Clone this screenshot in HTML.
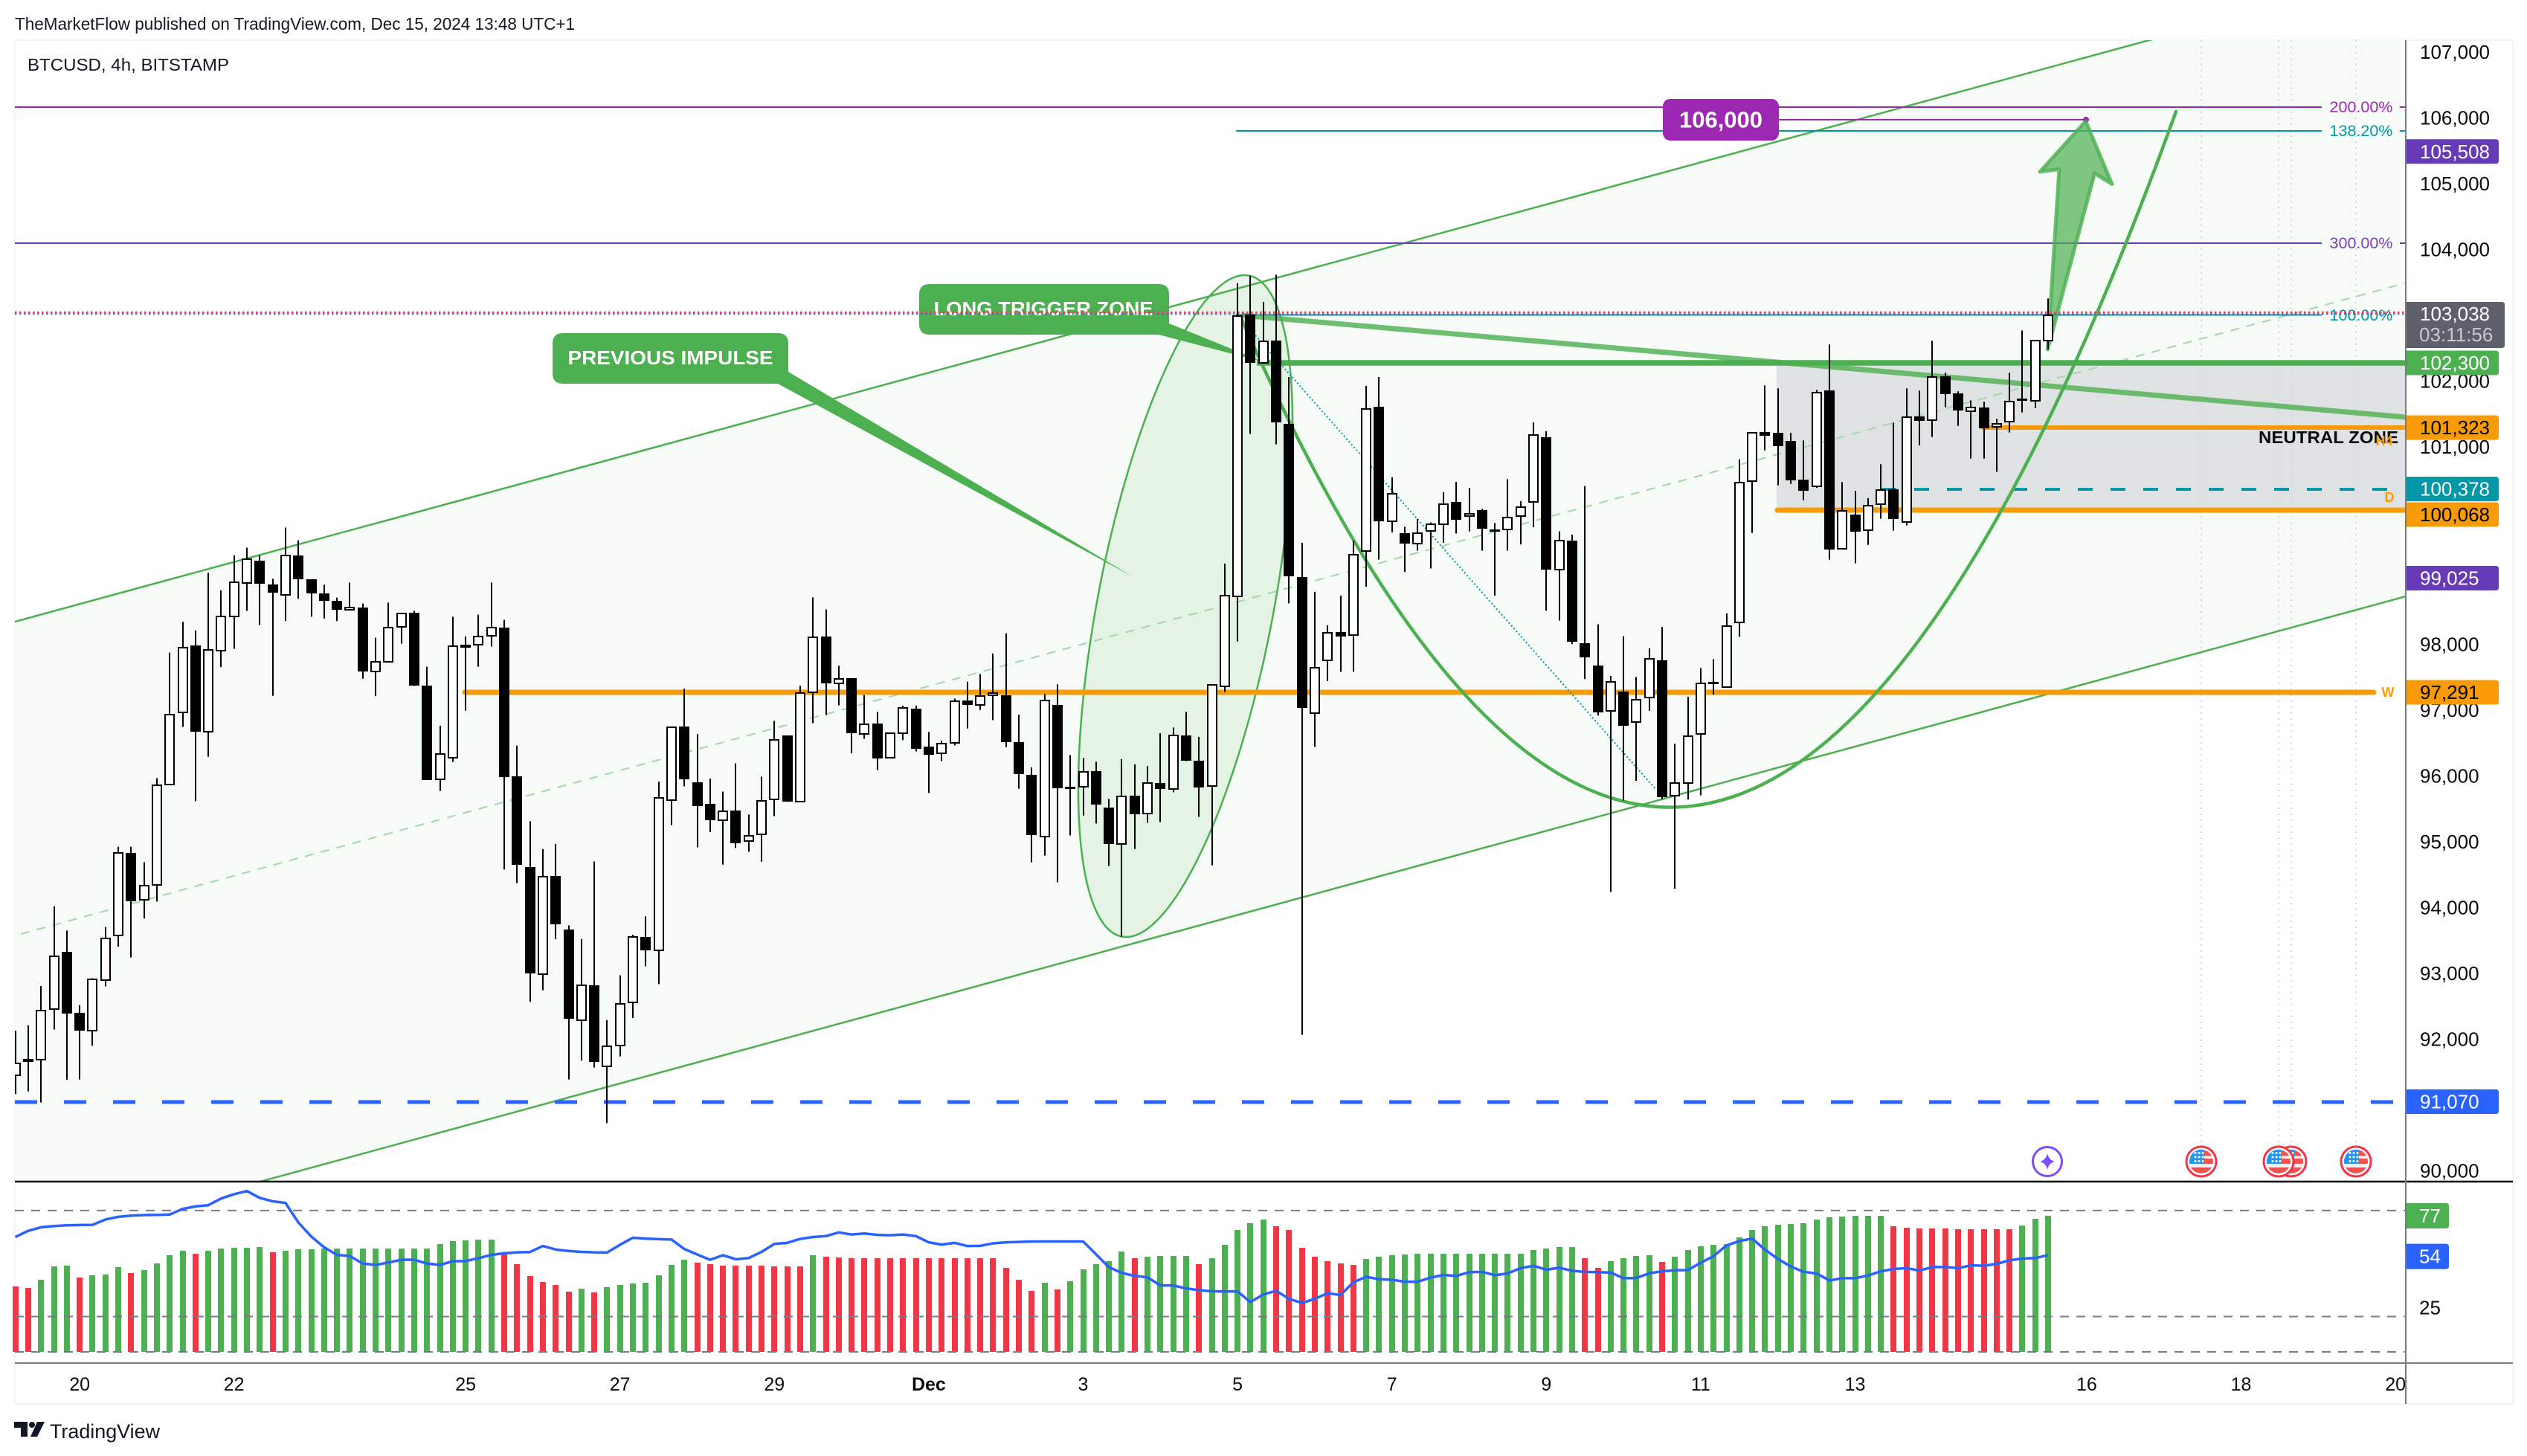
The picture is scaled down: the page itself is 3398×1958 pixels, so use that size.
<!DOCTYPE html>
<html lang="en">
<head>
<meta charset="utf-8">
<title>BTCUSD 4h chart</title>
<style>
html,body{margin:0;padding:0;background:#fff;width:3398px;height:1958px;overflow:hidden}
svg{display:block;font-family:"Liberation Sans",sans-serif}
</style>
</head>
<body>
<svg id="chart" xmlns="http://www.w3.org/2000/svg" width="3398" height="1958" viewBox="0 0 3398 1958">
<defs>
<clipPath id="pane-clip"><rect x="20" y="54" width="3215" height="1535"/></clipPath>
</defs>
<rect x="0" y="0" width="3398" height="1958" fill="#ffffff"/>
<text x="20" y="32" dominant-baseline="central" font-size="23" fill="#131722" textLength="753" lengthAdjust="spacingAndGlyphs">TheMarketFlow published on TradingView.com, Dec 15, 2024 13:48 UTC+1</text>
<rect x="20" y="54" width="3359" height="1834" fill="#ffffff" stroke="#f0f3fa" stroke-width="2"/>

<g clip-path="url(#pane-clip)">
  <polygon points="20,836 3235,-40 3235,802 20,1679" fill="#f6fbf7"/>
  <ellipse cx="1594" cy="815" rx="118" ry="452.6" transform="rotate(10.9 1594 815)" fill="rgba(76,175,80,0.1)" stroke="#4caf50" stroke-width="2.5"/>
  <rect x="2389" y="488" width="846" height="198" fill="#dfe2e2"/>
  <line x1="2960" y1="54" x2="2960" y2="1540" stroke="#d6d8de" stroke-width="2" stroke-dasharray="2 6"/>
  <line x1="3064" y1="54" x2="3064" y2="1540" stroke="#d6d8de" stroke-width="2" stroke-dasharray="2 6"/>
  <line x1="3081" y1="54" x2="3081" y2="1540" stroke="#d6d8de" stroke-width="2" stroke-dasharray="2 6"/>
  <line x1="3168" y1="54" x2="3168" y2="1540" stroke="#d6d8de" stroke-width="2" stroke-dasharray="2 6"/>
  <line x1="20" y1="836" x2="3235" y2="-40" stroke="#4caf50" stroke-width="2.5"/>
  <line x1="20" y1="1679" x2="3235" y2="802" stroke="#4caf50" stroke-width="2.5"/>
  <line x1="28" y1="1256" x2="3235" y2="380.5" stroke="#a5d6a7" stroke-width="2" stroke-dasharray="12 10"/>
  <line x1="20" y1="144" x2="3122" y2="144" stroke="#9c27b0" stroke-width="2"/>
  <line x1="3227" y1="144" x2="3235" y2="144" stroke="#9c27b0" stroke-width="2"/>
  <line x1="1662" y1="176" x2="3122" y2="176" stroke="#0097a7" stroke-width="2"/>
  <line x1="3227" y1="176" x2="3235" y2="176" stroke="#0097a7" stroke-width="2"/>
  <line x1="20" y1="327" x2="3122" y2="327" stroke="#673ab7" stroke-width="2"/>
  <line x1="3227" y1="327" x2="3235" y2="327" stroke="#673ab7" stroke-width="2"/>
  <line x1="1662" y1="423.5" x2="3122" y2="423.5" stroke="#0097a7" stroke-width="2"/>
  <line x1="2392" y1="161" x2="2805" y2="161" stroke="#9c27b0" stroke-width="2"/>
  <circle cx="2805" cy="161" r="4" fill="#9c27b0"/>
  <line x1="20" y1="1482" x2="3235" y2="1482" stroke="#2962ff" stroke-width="5" stroke-dasharray="30 36"/>
  <line x1="625" y1="931" x2="3192" y2="931" stroke="#f99b07" stroke-width="7" stroke-linecap="round"/>
  <line x1="2667" y1="575" x2="3235" y2="575" stroke="#f99b07" stroke-width="6" stroke-linecap="round"/>
  <line x1="2390" y1="686" x2="3235" y2="686" stroke="#f99b07" stroke-width="7" stroke-linecap="round"/>
  <line x1="2530" y1="658" x2="3235" y2="658" stroke="#0097a7" stroke-width="4" stroke-dasharray="20 24"/>
  <line x1="1690" y1="488" x2="3235" y2="488" stroke="#4caf50" stroke-width="7.5"/>
  <line x1="1669" y1="424" x2="3235" y2="561" stroke="rgba(76,175,80,0.8)" stroke-width="7"/>
  <line x1="1688" y1="451" x2="2227" y2="1062" stroke="#0097a7" stroke-width="2" stroke-dasharray="2 3"/>
  <path d="M1669,428 Q2305,1870 2926,150" fill="none" stroke="#4caf50" stroke-width="4.5" stroke-linecap="round"/>
  <polygon points="2804.6,163 2840,247.6 2816.6,233 2753.4,470 2769,227.5 2743,231" fill="rgba(76,175,80,0.7)" stroke="rgba(76,175,80,0.8)" stroke-width="5" stroke-linejoin="round"/>
  <path d="M757,448 H1046 Q1060,448 1060,462 V500 L1524,776 L1046,516 H757 Q743,516 743,502 V462 Q743,448 757,448 Z" fill="#4caf50"/>
  <path d="M1250,382 H1558 Q1572,382 1572,396 V435 L1700,487 L1558,450 H1250 Q1236,450 1236,436 V396 Q1236,382 1250,382 Z" fill="#4caf50"/>
  <text x="901.5" y="481" dominant-baseline="central" text-anchor="middle" font-size="26" font-weight="bold" fill="#ffffff" textLength="276" lengthAdjust="spacingAndGlyphs">PREVIOUS IMPULSE</text>
  <text x="1403" y="415" dominant-baseline="central" text-anchor="middle" font-size="26" font-weight="bold" fill="#ffffff" textLength="295" lengthAdjust="spacingAndGlyphs">LONG TRIGGER ZONE</text>
  <rect x="2236" y="133" width="156" height="56" rx="10" fill="#9c27b0"/>
  <text x="2314" y="161" dominant-baseline="central" text-anchor="middle" font-size="31" font-weight="bold" fill="#ffffff">106,000</text>
  <text x="3175" y="144" dominant-baseline="central" text-anchor="middle" font-size="21.5" fill="#9c27b0">200.00%</text>
  <text x="3175" y="176" dominant-baseline="central" text-anchor="middle" font-size="21.5" fill="#0097a7">138.20%</text>
  <text x="3175" y="327" dominant-baseline="central" text-anchor="middle" font-size="21.5" fill="#7b3fb8">300.00%</text>
  <text x="3175" y="424" dominant-baseline="central" text-anchor="middle" font-size="21.5" fill="#0097a7">100.00%</text>
  <text x="3131" y="588" dominant-baseline="central" text-anchor="middle" font-size="23" font-weight="bold" fill="#0a0a0a" textLength="188" lengthAdjust="spacingAndGlyphs">NEUTRAL ZONE</text>
  <text x="3206" y="593" dominant-baseline="central" text-anchor="middle" font-size="18" font-weight="bold" fill="#f99b07">H4</text>
  <text x="3213" y="669" dominant-baseline="central" text-anchor="middle" font-size="18" font-weight="bold" fill="#f99b07">D</text>
  <text x="3211" y="931" dominant-baseline="central" text-anchor="middle" font-size="18" font-weight="bold" fill="#f99b07">W</text>
  <line x1="20" y1="420" x2="3235" y2="420" stroke="#f0415c" stroke-width="2.5" stroke-dasharray="2.5 3.5"/>
  <line x1="20" y1="422.25" x2="3235" y2="422.25" stroke="#5560a8" stroke-width="2" stroke-dasharray="2.5 3.5"/>
  <g id="candles"></g>
</g>

<text x="37" y="87" dominant-baseline="central" font-size="23" fill="#131722" textLength="271" lengthAdjust="spacingAndGlyphs">BTCUSD, 4h, BITSTAMP</text>
<g id="event-icons"></g>

<g id="rsi-pane"></g>

<line x1="20" y1="1589" x2="3379" y2="1589" stroke="#000000" stroke-width="2.5"/>
<line x1="20" y1="1833" x2="3379" y2="1833" stroke="#787b86" stroke-width="2"/>
<line x1="3235" y1="54" x2="3235" y2="1888" stroke="#787b86" stroke-width="2"/>

<g id="price-axis"></g>
<g id="time-axis"></g>

<g>
  <path d="M19,1912 H37 V1932 H28 V1920 H19 Z M50,1912 H60 L50,1932 H41 Z" fill="#131722"/>
  <circle cx="43" cy="1916" r="4" fill="#131722"/>
  <text x="67" y="1925" dominant-baseline="central" font-size="27" fill="#131722" textLength="148" lengthAdjust="spacingAndGlyphs">TradingView</text>
</g>
</svg>

<script>
const opens = [
91473,91719,91713,92478,93347,92426,92154,92919,93600,94845,
94138,94365,95890,96986,97998,96694,97926,98445,98951,99288,
98932,98776,99373,99003,98789,98685,98549,98581,97608,97758,
98289,98504,97388,95967,96292,98011,98017,98153,98277,96019,
94638,93003,94495,93691,92309,92835,91609,91927,92582,93578,
93371,95656,96766,95928,95601,95348,95490,95026,95132,95666,
96630,95631,97290,98143,97427,97502,96660,96811,96297,96670,
97048,96463,96367,96524,97164,97099,97245,97250,96529,96034,
95101,97104,95853,95853,96090,95545,94985,95717,95449,95918,
95822,96640,96246,95868,97386,98753,103034,102296,102637,101369,
99038,96969,97778,98206,98166,99435,101631,99895,99712,99546,
99744,99847,100188,99974,100061,99768,99760,99974,100180,101171,
99157,99601,98032,97699,97009,97302,96843,97215,97778,95725,
95907,96660,97445,97374,98349,100497,101242,101231,101107,100519,
100418,101879,99469,99988,99755,100146,100372,99875,101480,101423,
102090,101830,101559,101615,101321,101400,101751,101717,102632];
const highs = [
92147,92232,92828,94041,93671,92536,92945,93723,94943,94943,
94709,95987,97894,98361,98231,99107,98841,99373,99489,99373,
99016,99794,99600,99003,98925,98730,98958,98640,98121,98653,
98484,98529,97680,96785,98439,98140,98471,98958,98393,96480,
95332,94910,94988,93749,93542,94722,92309,92991,93607,93886,
95933,96761,97346,96655,95979,95782,96211,95434,96009,96857,
96630,97391,98733,98551,97694,97502,97250,96993,96670,97089,
97089,96690,96554,97195,97452,97568,97880,98188,96952,96150,
97265,97411,96337,96292,96236,95671,96276,96196,96171,96670,
96756,96993,96614,97401,99247,103509,103620,103224,103636,102082,
99562,98816,98309,98761,99593,101948,102082,100560,99807,99926,
99871,100330,100489,100394,100077,99863,100529,100196,101393,101258,
99736,99688,100426,98325,97540,98143,97524,97960,98285,96510,
97223,97659,97794,98491,100830,101234,101954,101909,101231,101118,
101886,102576,100485,100350,100241,100757,101389,101909,101875,102632,
102146,101864,101728,101706,101446,102146,102790,102640,103276];
const lows = [
91187,91226,91058,92167,91401,91408,91920,92822,93425,93263,
93853,94112,95890,96765,95637,96311,97673,97952,98529,98315,
97239,98374,98711,98439,98413,98374,98542,97498,97232,97751,
98030,97388,95961,95792,96233,97012,97680,97985,94599,94391,
92588,92763,93542,91408,91693,91589,90746,91758,92342,93129,
92857,95273,95863,94935,95167,94672,94925,94869,94718,95409,
95626,95631,96821,96947,97094,96367,96584,96110,96297,96564,
96393,95762,96246,96483,96741,97023,96867,96458,95827,94708,
94809,94405,95116,95419,95298,94652,93578,94910,95308,95318,
95772,96246,95399,94662,97295,98063,101218,102296,101060,98642,
92086,96462,97461,97603,97603,98896,99308,99720,99118,99443,
99173,99562,99704,99736,99443,98761,99443,99538,99799,98531,
98380,98024,97493,96938,94258,95646,95947,97009,95669,94306,
95662,95725,97255,97358,98135,99712,100967,100436,100459,100210,
100399,99307,99469,99250,99532,99928,99747,99826,101046,101171,
101623,101340,100843,100843,100640,101239,101544,101611,102500];
const closes = [
91648,91680,92459,93282,92413,92147,92926,93555,94845,94119,
94352,95883,96953,97972,96687,97939,98439,98958,99308,98938,
98808,99373,99003,98789,98685,98542,98581,97602,97751,98277,
98484,97388,95961,96350,97991,97965,98134,98270,96006,94664,
93023,94489,93769,92335,92841,91680,91907,92556,93568,93366,
95681,96761,95964,95565,95343,95485,95000,95111,95641,96569,
95626,97280,98128,97432,97497,96665,96806,96281,96670,97053,
96428,96347,96514,97159,97094,97235,97280,96529,96044,95126,
97169,95833,95817,96085,95580,94990,95712,95434,95913,95827,
96635,96246,95848,97401,98763,103010,102296,102629,101393,99054,
97049,97659,98198,98143,99387,101591,99887,100307,99546,99704,
99847,100148,99918,100005,99776,99744,99950,100108,101195,99157,
99601,98055,97818,96985,97445,96787,97183,97794,95693,95907,
96628,97421,97429,98301,100473,101234,101193,101035,100515,100357,
101849,99465,100052,99736,100131,100369,99928,101476,101419,102086,
101826,101577,101615,101306,101374,101713,101739,102640,103024];
// Histogram indicator height per bar
const histogramValues = [
37,36.2,40.8,48.4,48.8,42,43.3,43.7,47.9,44.6,
46.3,50,54.7,57.2,55.5,57.2,58.5,58.9,58.9,59.3,
56.3,57.2,58,58,58.5,58.5,58.5,58.5,58.5,58.5,
58.5,58.5,58.5,61,62.7,63.1,63.5,63.5,55.1,49.6,
42.9,39.5,37.8,34.1,35.7,33.6,36.6,37.8,38.7,39.1,
43.3,49.2,52.1,50.5,49.6,48.8,48.8,48.8,48.8,48.4,
48.4,48.4,54.7,53.8,53.4,53,53,53,53,53,
53,53,53,53,53,53,53,47.5,40.8,34.5,
39.1,35.3,39.9,46.7,49.6,51.3,56.8,53,53.8,54.2,
54.2,54.2,49.6,53,60.6,69,72.8,74.9,71.1,69,
58.9,53.8,51.3,50,49.2,52.6,53.8,54.7,55.1,55.5,
55.5,55.5,55.5,55.5,55.5,55.6,55.6,55.6,57.7,58.5,
59.4,59.4,53.1,47.6,51.4,53.1,54.3,54.7,51,53.9,
57.7,59.8,60.6,61,64.8,69,71.1,72,72.4,72.8,
74.9,76.2,76.6,77,77,77,71.1,70.3,69.9,69.9,
69.9,69.5,69.5,69.5,69.5,69.5,71.6,75.3,77];
// 1 = rising (green), 0 = falling (red)
const histogramRising = [
0,0,1,1,1,0,1,1,1,0,
1,1,1,1,0,1,1,1,1,1,
0,1,1,1,1,1,1,1,1,1,
1,1,1,1,1,1,1,1,0,0,
0,0,0,0,1,0,1,1,1,1,
1,1,1,0,0,0,0,0,0,0,
0,0,1,0,0,0,0,0,0,0,
0,0,0,0,0,0,0,0,0,0,
1,0,1,1,1,1,1,0,1,1,
1,1,0,1,1,1,1,1,0,0,
0,0,0,0,0,1,1,1,1,1,
1,1,1,1,1,1,1,1,1,1,
1,1,0,0,1,1,1,1,0,1,
1,1,1,1,1,1,1,1,1,1,
1,1,1,1,1,1,0,0,0,0,
0,0,0,0,0,0,1,1,1];
const rsiValues = [
65,68.5,70.5,71.2,71.6,71.8,71.9,74.9,76.4,77.1,
77.4,77.5,77.7,80.9,82.3,83,86.8,89.2,91,87.1,
85.2,84.3,73.2,65.3,59.2,54.9,54.2,50,49.2,50.6,
52.1,52.1,50,49.2,51.3,51.4,53,54.9,55.8,56.3,
56.5,59.9,57.9,57.1,56.6,56.3,56.2,60.6,64.6,64.1,
63.8,63.6,58.2,55.1,52.1,54.7,52.4,53.1,56.6,61.1,
61.7,63.9,65,65.5,67.6,66.4,67,66.2,66,66.4,
65.5,62,60.7,61.7,59.9,60,61.4,62,62.2,62.4,
62.5,62.5,62.5,62.5,55.2,47.9,44.7,43,42.2,37.6,
37.6,35.9,34.9,34.3,34.2,34.2,28.2,32.5,34.6,30,
27.7,30,33.2,32.2,39.4,42.5,41.1,40.8,39.7,39.7,
42,43.5,43,45.1,45.3,43.4,44.4,47.4,48.7,46.5,
47.6,45.9,45.2,45.1,44.9,41.7,41.8,44.5,45.6,46.2,
46.3,50.4,54.2,60.2,62.7,64.1,57.8,52.6,48.3,45.3,
44.4,40.4,41.7,41.7,43.2,45.6,46.9,47.4,46,48,
48,47.4,49,48.7,49.8,51.8,52.8,53.1,54.7];
const rsiBands = [80, 20, 0];
const priceTicks = [107000,106000,105000,104000,102000,101000,98000,97000,96000,95000,94000,93000,92000,90000];
const timeTickLabels = ["20","22","25","27","29","Dec","3","5","7","9","11","13","16","18","20"];
const timeTickBars = [5,17,35,47,59,71,83,95,107,119,131,143,161,173,185];
const oscillatorTicks = [25];

const NS = "http://www.w3.org/2000/svg";
function xOfBar(i){ return 20.6 + i * 17.3; }
function yOfPrice(p){ return 931 - (p - 97291) * 0.0885; }
function yOfOsc(v){ return 1818 - v * 2.377; }
function fmt(n){ return String(n).replace(/\B(?=(\d{3})+(?!\d))/g, ","); }
function make(tag, parent){
  const el = document.createElementNS(NS, tag);
  parent.appendChild(el);
  return el;
}

// Candles
const candleGroup = document.getElementById("candles");
opens.forEach(function(open, i){
  const close = closes[i];
  const up = close >= open;
  const x = Math.round(xOfBar(i));
  const wick = make("line", candleGroup);
  
  
  wick.setAttribute("x1", x);
  wick.setAttribute("x2", x);
  wick.setAttribute("y1", yOfPrice(highs[i]));
  wick.setAttribute("y2", yOfPrice(lows[i]));
  wick.setAttribute("stroke", "#000");
  wick.setAttribute("stroke-width", 2);
  const body = make("rect", candleGroup);
  
  
  const top = Math.round(yOfPrice(Math.max(open, close)));
  const bot = Math.round(yOfPrice(Math.min(open, close)));
  if (up) {
    body.setAttribute("x", x - 6);
    body.setAttribute("width", 12);
    body.setAttribute("y", top);
    body.setAttribute("height", Math.max(bot - top, 1));
    body.setAttribute("fill", "#fff");
    body.setAttribute("stroke", "#000");
    body.setAttribute("stroke-width", 2);
  } else {
    body.setAttribute("x", x - 7);
    body.setAttribute("width", 14);
    body.setAttribute("y", top);
    body.setAttribute("height", Math.max(bot - top, 3));
    body.setAttribute("fill", "#000");
  }
});

// RSI pane
const rsiPane = document.getElementById("rsi-pane");
histogramValues.forEach(function(v, i){
  const bar = make("rect", rsiPane);
  
  
  bar.setAttribute("x", Math.round(xOfBar(i)) - 4);
  bar.setAttribute("width", 8);
  bar.setAttribute("y", Math.round(yOfOsc(v)));
  bar.setAttribute("height", 1818 - Math.round(yOfOsc(v)));
  bar.setAttribute("fill", histogramRising[i] ? "#4caf50" : "#f23645");
});
rsiBands.forEach(function(b){
  const band = make("line", rsiPane);
  
  
  band.setAttribute("x1", 20);
  band.setAttribute("x2", 3235);
  band.setAttribute("y1", yOfOsc(b));
  band.setAttribute("y2", yOfOsc(b));
  band.setAttribute("stroke", "#787b86");
  band.setAttribute("stroke-width", 2);
  band.setAttribute("stroke-dasharray", "12 10");
});
const rsiLine = make("polyline", rsiPane);


rsiLine.setAttribute("points", rsiValues.map(function(v, i){ return xOfBar(i) + "," + yOfOsc(v); }).join(" "));
rsiLine.setAttribute("fill", "none");
rsiLine.setAttribute("stroke", "#2962ff");
rsiLine.setAttribute("stroke-width", 3.5);
rsiLine.setAttribute("stroke-linejoin", "round");

// Price axis
const priceAxis = document.getElementById("price-axis");
function axisText(parent, name, x, y, str, color, size, anchor, weight){
  const t = make("text", parent);
  
  
  t.setAttribute("x", x);
  t.setAttribute("y", y);
  t.setAttribute("dominant-baseline", "central");
  t.setAttribute("font-size", size);
  t.setAttribute("fill", color);
  if (anchor) t.setAttribute("text-anchor", anchor);
  if (weight) t.setAttribute("font-weight", weight);
  t.textContent = str;
  return t;
}
priceTicks.forEach(function(p){
  axisText(priceAxis, 'price-tick-label', 3254, yOfPrice(p) - 2, fmt(p), "#0a0a0a", 26);
});
oscillatorTicks.forEach(function(v){
  axisText(priceAxis, 'oscillator-tick-label', 3253, yOfOsc(v), String(v), "#0a0a0a", 26);
});
function priceTag(name, value, yCenter, fill, color){
  const r = make("path", priceAxis);
  
  
  const t = yCenter - 16.5, b = yCenter + 16.5;
  r.setAttribute("d", "M3236," + t + " H3356 Q3360," + t + " 3360," + (t + 4) + " V" + (b - 4) + " Q3360," + b + " 3356," + b + " H3236 Z");
  r.setAttribute("fill", fill);
  axisText(priceAxis, name + '-text', 3254, yCenter, fmt(value), color, 26);
}
priceTag('tag-105508', 105508, yOfPrice(105508), "#673ab7", "#fff");
priceTag('tag-102300', 102300, 488, "#4caf50", "#fff");
priceTag('tag-101323', 101323, 575, "#f99b07", "#000");
priceTag('tag-100378', 100378, 657.6, "#0097a7", "#fff");
priceTag('tag-100068', 100068, 692, "#f99b07", "#000");
priceTag('tag-99025', 99025, yOfPrice(99025), "#673ab7", "#fff");
priceTag('tag-97291', 97291, yOfPrice(97291), "#f99b07", "#000");
priceTag('tag-91070', 91070, yOfPrice(91070), "#2962ff", "#fff");

const lastBox = make("path", priceAxis);


lastBox.setAttribute("d", "M3236,406 H3364 Q3368,406 3368,410 V464 Q3368,468 3364,468 H3236 Z");
lastBox.setAttribute("fill", "#5d606b");
axisText(priceAxis, 'last-price-text', 3254, 422, "103,038", "#ffffff", 26);
axisText(priceAxis, 'bar-countdown-text', 3253, 450, "03:11:56", "#c9cacf", 26);

function oscTag(name, value, fill){
  const r = make("path", priceAxis);
  
  
  const c = yOfOsc(value);
  r.setAttribute("d", "M3236," + (c - 17) + " H3289 Q3293," + (c - 17) + " 3293," + (c - 13) + " V" + (c + 13) + " Q3293," + (c + 17) + " 3289," + (c + 17) + " H3236 Z");
  r.setAttribute("fill", fill);
  axisText(priceAxis, name + '-text', 3253, c, String(value), "#fff", 26);
}
oscTag('histogram-value-tag', 77, "#4caf50");
oscTag('rsi-value-tag', 54, "#2962ff");

// Time axis
const timeAxis = document.getElementById("time-axis");
timeTickLabels.forEach(function(label, i){
  axisText(timeAxis, 'time-tick-label', xOfBar(timeTickBars[i]), 1862, label, "#0a0a0a", 25, "middle", label === "Dec" ? "bold" : null);
});

// Event icons
const icons = document.getElementById("event-icons");
function flagIcon(cx, cy, id){
  const g = make("g", icons);
  
  
  const ring = make("circle", g);
  ring.setAttribute("cx", cx);
  ring.setAttribute("cy", cy);
  ring.setAttribute("r", 20);
  ring.setAttribute("fill", "#fff");
  ring.setAttribute("stroke", "#f23645");
  ring.setAttribute("stroke-width", 3);
  const clip = make("clipPath", g);
  clip.setAttribute("id", id);
  const cc = make("circle", clip);
  cc.setAttribute("cx", cx);
  cc.setAttribute("cy", cy);
  cc.setAttribute("r", 16);
  const inner = make("g", g);
  inner.setAttribute("clip-path", "url(#" + id + ")");
  const bg = make("rect", inner);
  bg.setAttribute("x", cx - 16);
  bg.setAttribute("y", cy - 16);
  bg.setAttribute("width", 32);
  bg.setAttribute("height", 32);
  bg.setAttribute("fill", "#f0f3fa");
  [[-16, 8.5], [-4, 7], [8, 8]].forEach(function(s){
    const st = make("rect", inner);
    st.setAttribute("x", cx - 16);
    st.setAttribute("y", cy + s[0]);
    st.setAttribute("width", 32);
    st.setAttribute("height", s[1]);
    st.setAttribute("fill", "#ef5350");
  });
  const canton = make("rect", inner);
  canton.setAttribute("x", cx - 16);
  canton.setAttribute("y", cy - 16);
  canton.setAttribute("width", 20);
  canton.setAttribute("height", 19);
  canton.setAttribute("fill", "#2196f3");
  for (let r = 0; r < 3; r++) {
    for (let c = 0; c < 3; c++) {
      const star = make("circle", inner);
      star.setAttribute("cx", cx - 8 + c * 5);
      star.setAttribute("cy", cy - 11.5 + r * 5.5);
      star.setAttribute("r", 1.5);
      star.setAttribute("fill", "#fff");
    }
  }
}
const starCircle = make("circle", icons);


starCircle.setAttribute("cx", 2753);
starCircle.setAttribute("cy", 1562);
starCircle.setAttribute("r", 19.5);
starCircle.setAttribute("fill", "#fff");
starCircle.setAttribute("stroke", "#7c4dff");
starCircle.setAttribute("stroke-width", 3);
const starShape = make("path", icons);


starShape.setAttribute("d", "M2753,1551 Q2755,1560 2763,1562 Q2755,1564 2753,1573 Q2751,1564 2743,1562 Q2751,1560 2753,1551 Z");
starShape.setAttribute("fill", "#7c4dff");
flagIcon(2960, 1562, "flag-a");
flagIcon(3081, 1562, "flag-b");
flagIcon(3064, 1562, "flag-c");
flagIcon(3168, 1562, "flag-d");
</script>
</body>
</html>
